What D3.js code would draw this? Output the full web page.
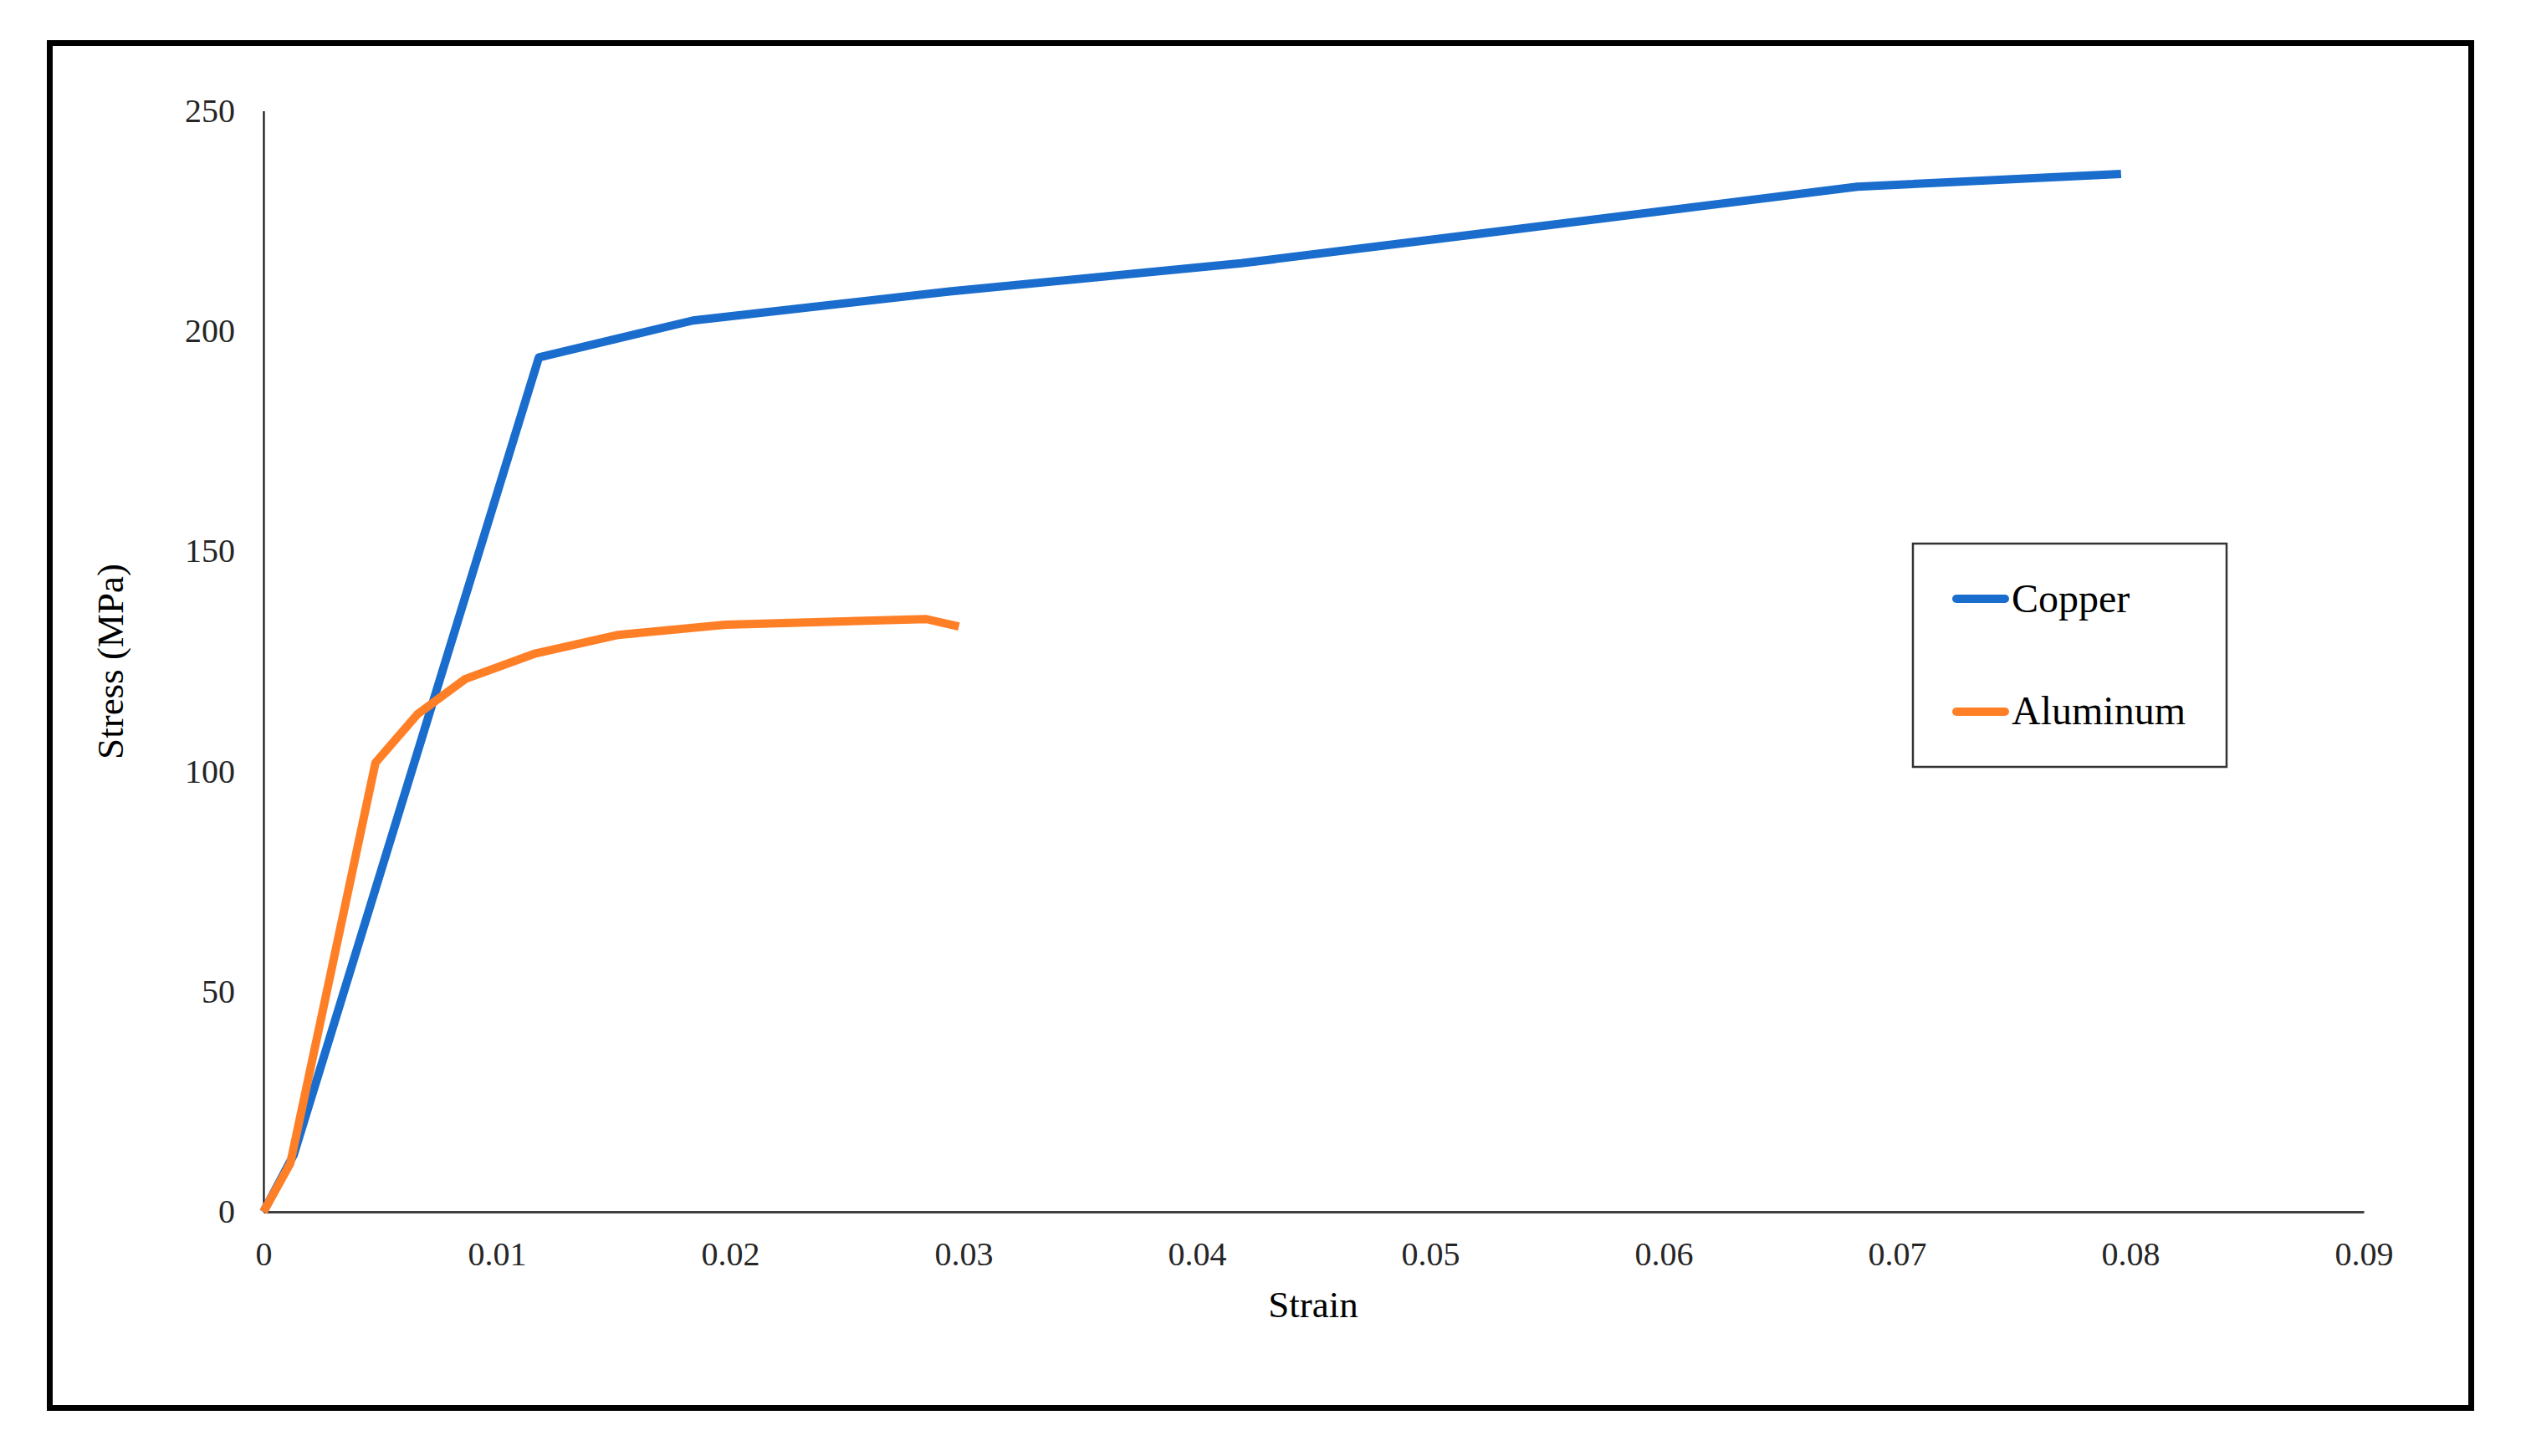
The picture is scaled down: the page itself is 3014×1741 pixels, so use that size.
<!DOCTYPE html>
<html>
<head>
<meta charset="utf-8">
<script src="https://cdn.jsdelivr.net/npm/d3@7"></script>
<style>
  html, body { margin: 0; padding: 0; background: #fff; }
  svg { display: block; }
</style>
</head>
<body>
<svg id="chart" width="3014" height="1741"></svg>
<script>
// ---- Data ----
const seriesNames = ["Copper", "Aluminum"];
const copperStrain = [0, 0.0013, 0.0118, 0.0184, 0.0294, 0.0419, 0.0550, 0.0683, 0.0796];
const copperStress = [0, 13, 194, 202.4, 209, 215.4, 224, 232.8, 235.7];
const aluminumStrain = [0, 0.00115, 0.0048, 0.0066, 0.00865, 0.01166, 0.0152, 0.0198, 0.0284, 0.0298];
const aluminumStress = [0, 11, 102, 113, 121, 126.8, 131, 133.3, 134.6, 132.9];
const xTickValues = [0, 0.01, 0.02, 0.03, 0.04, 0.05, 0.06, 0.07, 0.08, 0.09];
const xTickLabels = ["0", "0.01", "0.02", "0.03", "0.04", "0.05", "0.06", "0.07", "0.08", "0.09"];
const yTickValues = [0, 50, 100, 150, 200, 250];
const yTickLabels = ["0", "50", "100", "150", "200", "250"];
const colors = ["#1a6dcc", "#ff7f27"];

// ---- Layout ----
const svg = d3.select("#chart");
const plot = { left: 315, right: 2826, top: 132.6, bottom: 1449 };
const font = "'Liberation Serif', 'Times New Roman', serif";

// outer frame
svg.append("rect")
  .attr("x", 59.5).attr("y", 51.5)
  .attr("width", 2895).attr("height", 1632)
  .attr("fill", "none").attr("stroke", "#000").attr("stroke-width", 7);

const x = d3.scaleLinear().domain([0, 0.09]).range([plot.left, plot.right]);
const y = d3.scaleLinear().domain([0, 250]).range([plot.bottom, plot.top]);

// y axis
const yAxis = svg.append("g")
  .attr("transform", `translate(${plot.left},0)`)
  .call(d3.axisLeft(y).tickValues(yTickValues)
    .tickFormat((d, i) => yTickLabels[i]).tickSize(0).tickSizeOuter(0).tickPadding(34));
yAxis.select(".domain").attr("stroke", "#000").attr("stroke-width", 2);
yAxis.selectAll("text").attr("font-family", font).attr("font-size", 40).attr("fill", "#262626");

// x axis
const xAxis = svg.append("g")
  .attr("transform", `translate(0,${plot.bottom})`)
  .call(d3.axisBottom(x).tickValues(xTickValues)
    .tickFormat((d, i) => xTickLabels[i]).tickSize(0).tickSizeOuter(0).tickPadding(36));
xAxis.select(".domain").attr("stroke", "#404040").attr("stroke-width", 3);
xAxis.selectAll("text").attr("font-family", font).attr("font-size", 40).attr("fill", "#262626");

// axis titles
svg.append("text")
  .attr("x", 1570).attr("y", 1575)
  .attr("text-anchor", "middle")
  .attr("font-family", font).attr("font-size", 45).attr("fill", "#000")
  .text("Strain");
svg.append("text")
  .attr("transform", "translate(147,791) rotate(-90)")
  .attr("text-anchor", "middle")
  .attr("font-family", font).attr("font-size", 45).attr("fill", "#000")
  .text("Stress (MPa)");

// lines
const series = [
  { name: seriesNames[0], pts: copperStrain.map((s, i) => [s, copperStress[i]]), color: colors[0] },
  { name: seriesNames[1], pts: aluminumStrain.map((s, i) => [s, aluminumStress[i]]), color: colors[1] }
];
const line = d3.line().x(d => x(d[0])).y(d => y(d[1]));
svg.append("g").selectAll("path")
  .data(series)
  .join("path")
  .attr("d", d => line(d.pts))
  .attr("fill", "none")
  .attr("stroke", d => d.color)
  .attr("stroke-width", 10)
  .attr("stroke-linejoin", "round")
  .attr("stroke-linecap", "butt");

// legend
const lg = svg.append("g");
lg.append("rect")
  .attr("x", 2287).attr("y", 650)
  .attr("width", 375).attr("height", 267)
  .attr("fill", "#fff").attr("stroke", "#333").attr("stroke-width", 2.5);
const legendRows = [{ ly: 716, ty: 732 }, { ly: 851, ty: 866 }];
series.forEach((s, i) => {
  lg.append("line")
    .attr("x1", 2339).attr("x2", 2397)
    .attr("y1", legendRows[i].ly).attr("y2", legendRows[i].ly)
    .attr("stroke", s.color).attr("stroke-width", 10).attr("stroke-linecap", "round");
  lg.append("text")
    .attr("x", 2405).attr("y", legendRows[i].ty)
    .attr("font-family", font).attr("font-size", 48).attr("fill", "#000")
    .text(s.name);
});
</script>
</body>
</html>
